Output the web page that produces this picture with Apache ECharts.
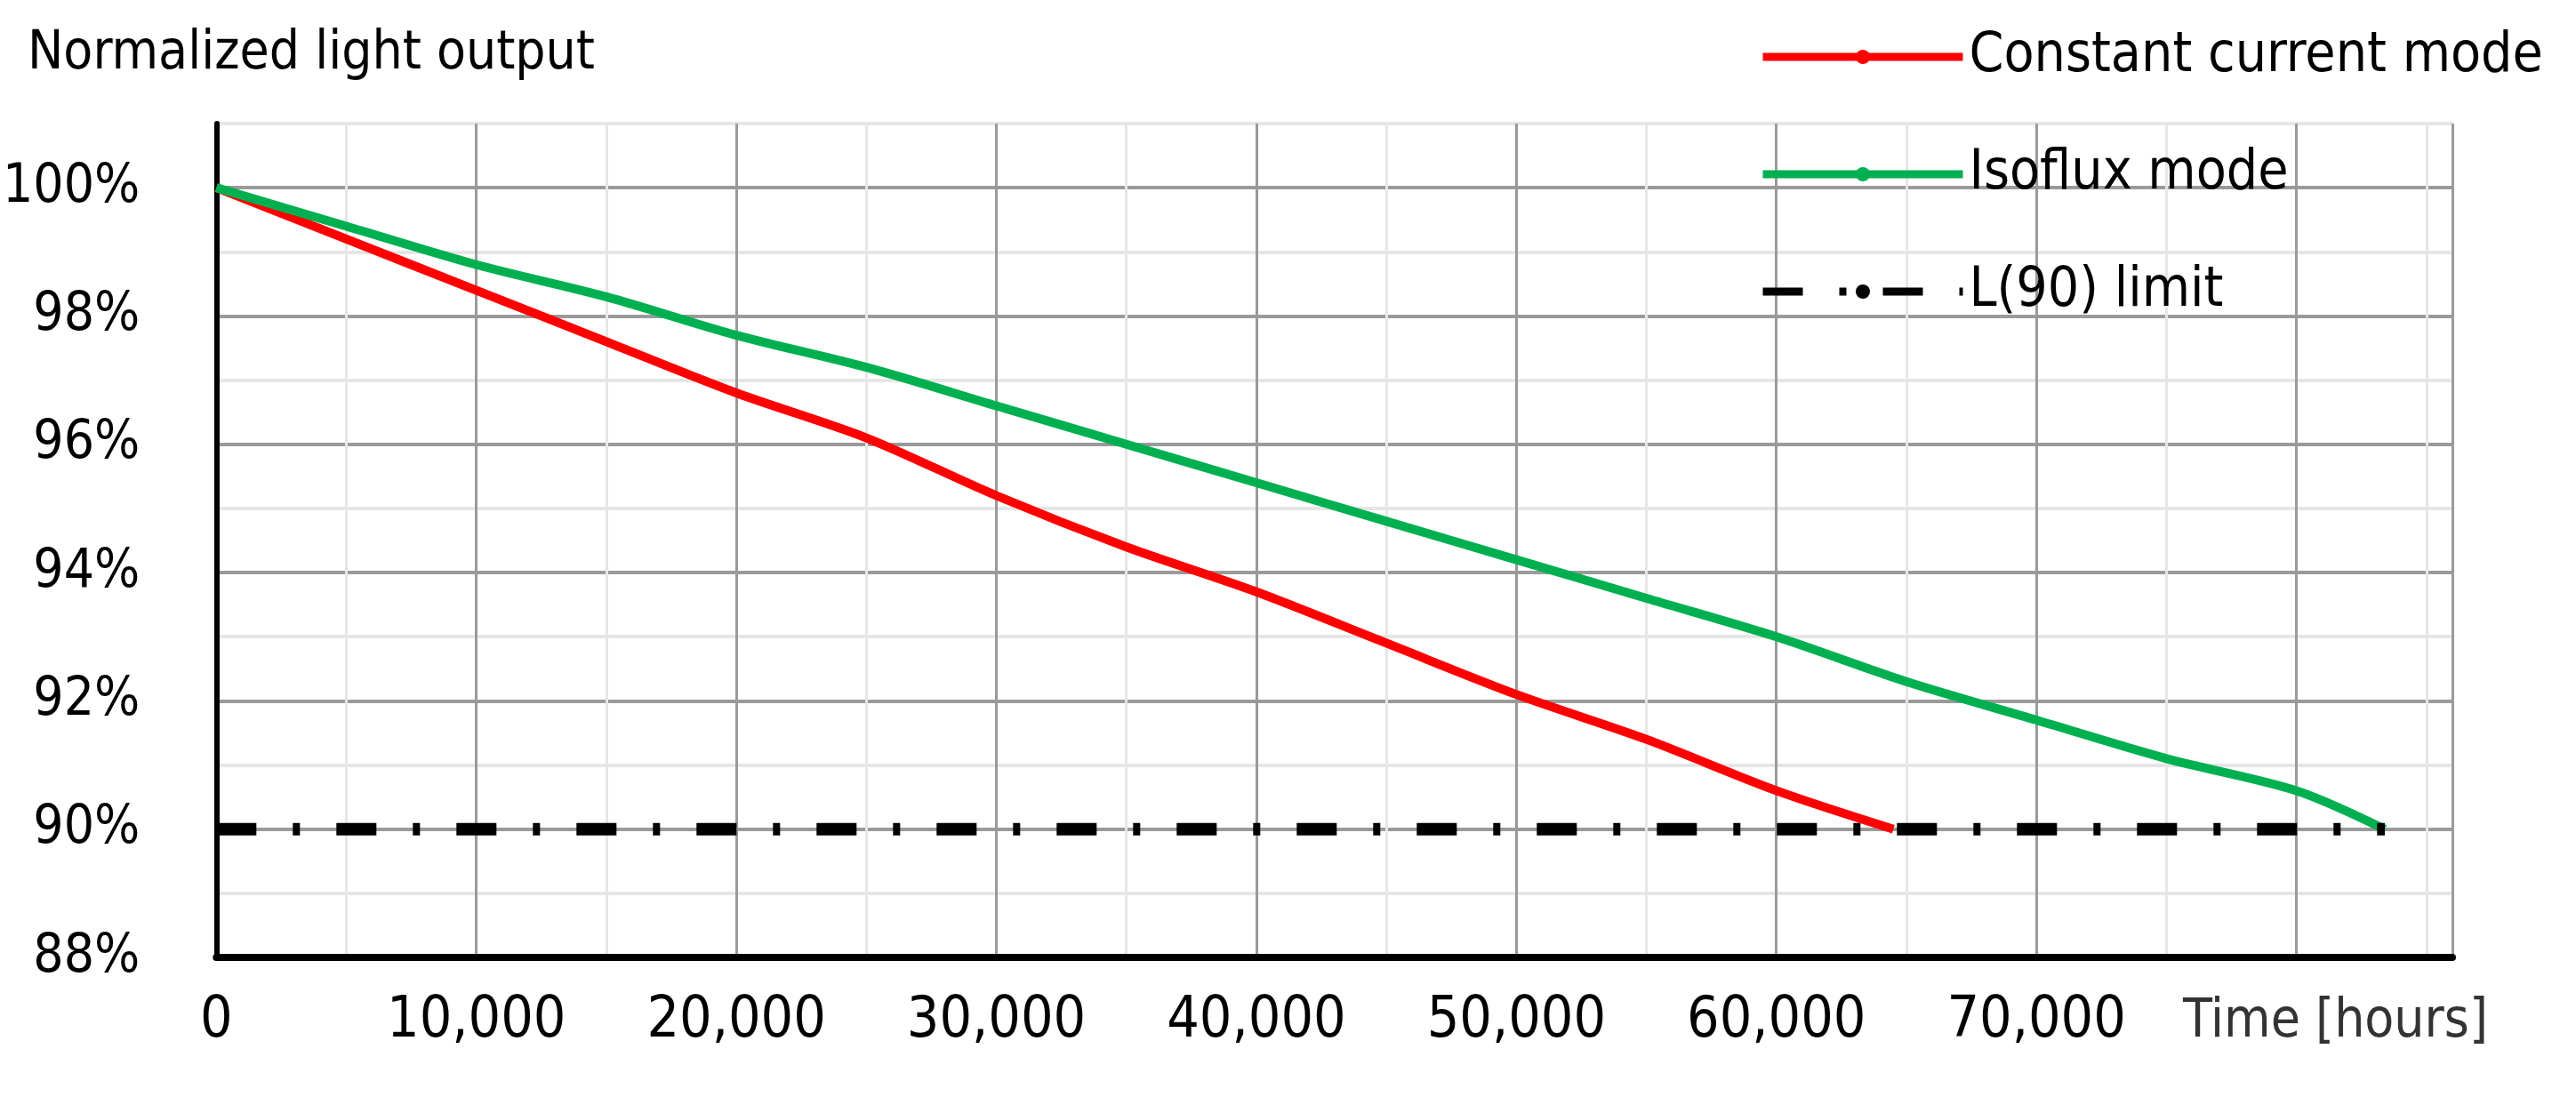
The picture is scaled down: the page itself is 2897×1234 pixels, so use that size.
<!DOCTYPE html>
<html><head><meta charset="utf-8">
<script src="https://cdn.jsdelivr.net/npm/echarts@6/dist/echarts.min.js"></script>
<style>html,body{margin:0;padding:0;background:#fff}#c{width:2897px;height:1234px}</style>
</head><body><div id="c"></div>
<script>
const hours = [0,5000,10000,15000,20000,25000,30000,35000,40000,45000,50000,55000,60000,64500];
const constantCurrent = [100,99.2,98.4,97.6,96.8,96.1,95.2,94.4,93.7,92.9,92.1,91.4,90.6,90.0];
const hoursIso = [0,5000,10000,15000,20000,25000,30000,35000,40000,45000,50000,55000,60000,65000,70000,75000,80000,83400];
const isoflux = [100,99.4,98.8,98.3,97.7,97.2,96.6,96.0,95.4,94.8,94.2,93.6,93.0,92.3,91.7,91.1,90.6,90.0];
const limitX = [0,83400];
const limitY = [90,90];
const FONT = '"Liberation Sans Narrow","DejaVu Sans Condensed","Open Sans",sans-serif';
const zip=(a,b)=>a.map((v,i)=>[v,b[i]]);
const chart = echarts.init(document.getElementById('c'));
chart.setOption({
  animation:false,
  grid:{left:227,right:139,top:139,bottom:157},
  title:{text:'Normalized light output',left:26,top:26,textStyle:{fontFamily:FONT,fontSize:60,fontWeight:'normal',color:'#000'}},
  legend:{orient:'vertical',left:1973,top:28,itemWidth:225,itemHeight:20,itemGap:70,
    lineStyle:{width:9},
    textStyle:{fontFamily:FONT,fontSize:62,color:'#000',padding:[0,0,0,2]},
    data:['Constant current mode','Isoflux mode','L(90) limit']},
  graphic:[{type:'text',left:2455,top:1120,style:{text:'Time [hours]',font:'60px '+FONT,fill:'#333'}}],
  xAxis:{type:'value',min:0,max:86000,interval:5000,
    axisLine:{lineStyle:{color:'#000',width:8}},axisTick:{show:false},
    axisLabel:{fontFamily:FONT,fontSize:64,color:'#000',margin:40,
      formatter:v=>(v%10000===0&&v<80000)?(v===0?'0':v.toLocaleString('en-US')):''},
    splitLine:{show:true,lineStyle:{color:['#9a9a9a','#e6e6e6'],width:3}}},
  yAxis:{type:'value',min:88,max:101,interval:1,
    axisLine:{show:true,lineStyle:{color:'#000',width:6}},axisTick:{show:false},
    axisLabel:{fontFamily:FONT,fontSize:60,color:'#000',margin:86,align:'right',
      formatter:v=>(v%2===0)?v+'%':''},
    splitLine:{show:true,lineStyle:{color:['#9a9a9a','#e6e6e6'],width:4}}},
  series:[
    {name:'Constant current mode',type:'line',data:zip(hours,constantCurrent),symbol:'none',smooth:0.3,
      lineStyle:{color:'#ff0000',width:10},itemStyle:{color:'#ff0000'},z:3},
    {name:'Isoflux mode',type:'line',data:zip(hoursIso,isoflux),symbol:'none',smooth:0.3,
      lineStyle:{color:'#00b050',width:10},itemStyle:{color:'#00b050'},z:3},
    {name:'L(90) limit',type:'line',data:zip(limitX,limitY),symbol:'none',
      lineStyle:{color:'#000',width:14,type:[45,41,8,41]},itemStyle:{color:'#000'},z:4}
  ]
});
</script></body></html>
